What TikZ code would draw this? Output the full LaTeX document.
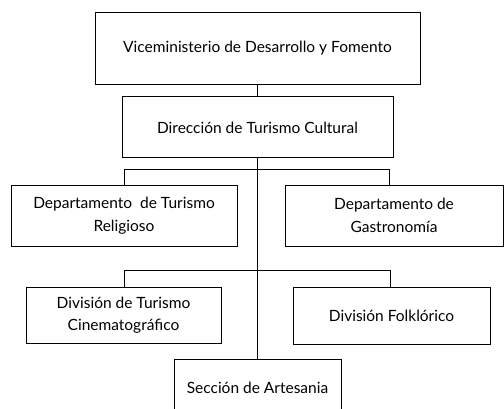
\documentclass[tikz,border=0pt]{standalone}
\usepackage{fontspec}
\setmainfont{Lato}
\usetikzlibrary{positioning}

\begin{document}
\begin{tikzpicture}[
    x=1pt, y=-1pt,
    unit/.style={rectangle,draw=black,line width=0.9pt,align=center,
      inner sep=0pt,font=\fontsize{15.5}{22.5}\selectfont},
    link/.style={line width=0.8pt}
  ]
    \useasboundingbox (0,0) rectangle (504,408);
    % levels of the chart
    \node[unit,minimum width=325pt,minimum height=72pt] (vice) at (257.5,48) {Viceministerio de Desarrollo y Fomento};
    \node[unit,minimum width=271pt,minimum height=61pt,below=12pt of vice] (dir) {Dirección de Turismo Cultural};
    \node[unit,minimum width=226pt,minimum height=61pt] (deptrel) at (124,215.5) {Departamento\ \ de Turismo\\Religioso};
    \node[unit,minimum width=218pt,minimum height=61pt] (deptgas) at (394,215.5) {Departamento de\\Gastronomía};
    \node[unit,minimum width=195pt,minimum height=56pt] (divcine) at (123.5,315) {División de Turismo\\Cinematográfico};
    \node[unit,minimum width=197pt,minimum height=57pt] (divfolk) at (391.5,315.5) {División Folklórico};
    \node[unit,minimum width=167pt,minimum height=56pt,anchor=north] (secart) at (257.5,359) {Sección de Artesania};
    % connectors
    \coordinate (fork1) at (257.5,169);
    \coordinate (fork2) at (257.5,270);
    \draw[link] (vice) -- (dir);
    \draw[link] (dir.south) -- (secart.north);
    \draw[link] (fork1) -| (deptrel.north);
    \draw[link] (fork1) -| ([xshift=-5pt]deptgas.north);
    \draw[link] (fork2) -| ([xshift=0.5pt]divcine.north);
    \draw[link] (fork2) -| ([xshift=-1.5pt]divfolk.north);
\end{tikzpicture}
\end{document}
